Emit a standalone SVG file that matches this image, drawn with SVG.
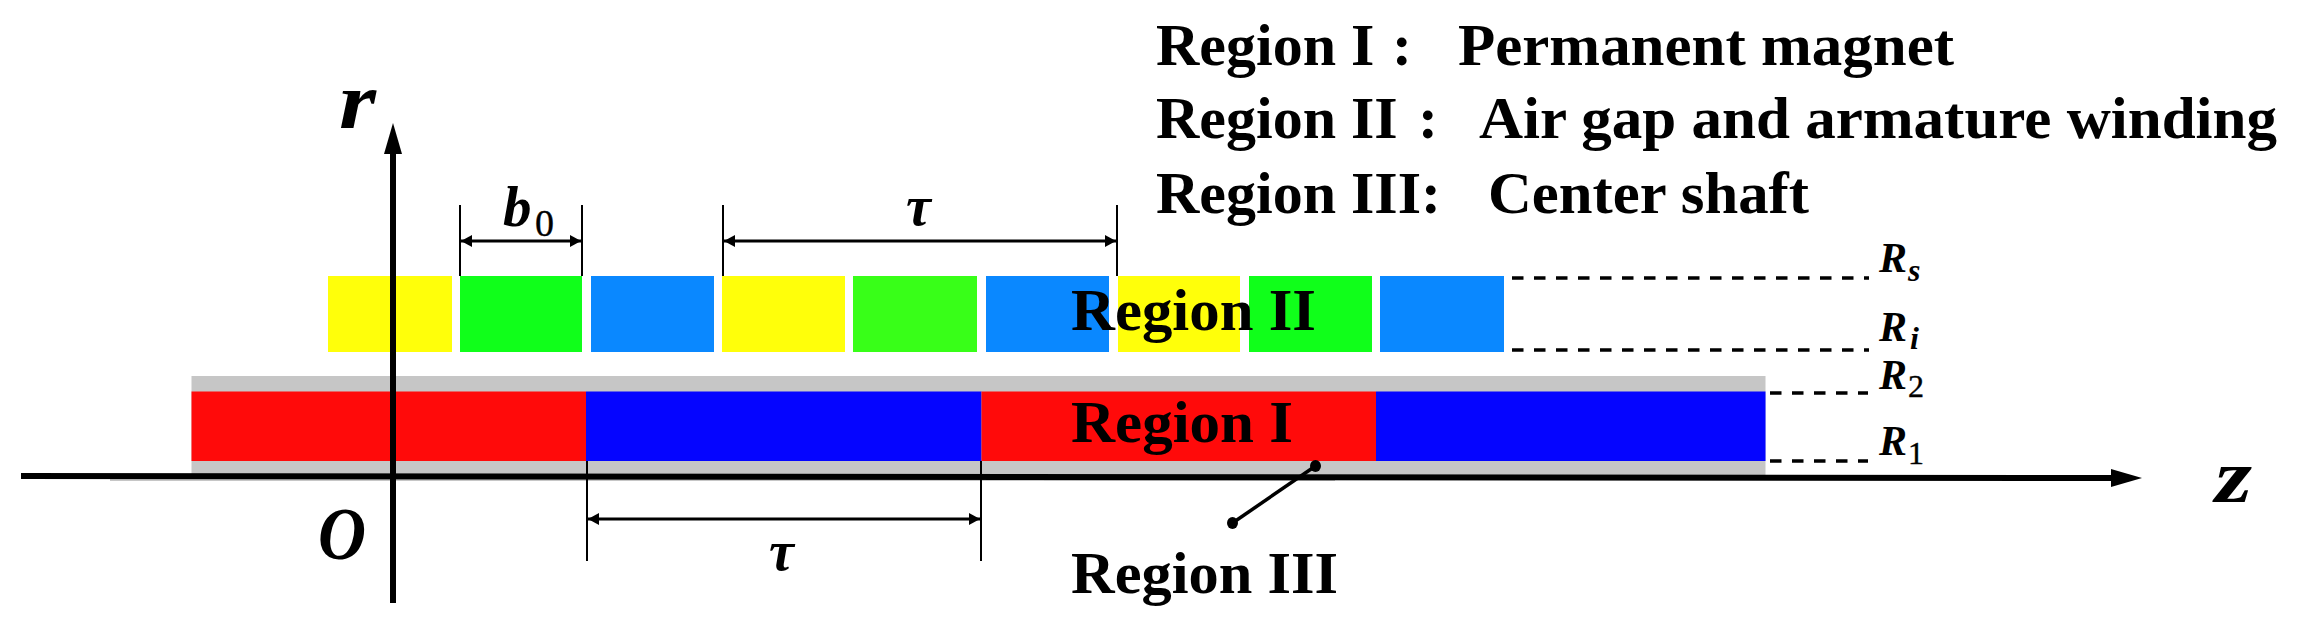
<svg xmlns="http://www.w3.org/2000/svg" width="2298" height="630" viewBox="0 0 2298 630">
<style>
.t{font-family:"Liberation Serif","Times New Roman",serif;font-weight:bold;font-size:60px;fill:#000}
.m{font-family:"Liberation Serif","Times New Roman",serif;font-weight:bold;font-style:italic;fill:#000}
.s{font-family:"Liberation Serif","Times New Roman",serif;fill:#000;stroke:#000;stroke-width:.4}
.axis{stroke:#000;stroke-width:6;fill:none}
.dim{stroke:#000;stroke-width:3;fill:none}
.ext{stroke:#000;stroke-width:2;fill:none}
.dash{stroke:#000;stroke-width:3.5;fill:none;stroke-dasharray:11.5 10.5}
.y{fill:#FFFF0A}.g{fill:#10FF1A}.g2{fill:#38FF18}.b{fill:#0A88FF}
.red{fill:#FF0A0A}.blue{fill:#0505FF}.gray{fill:#C6C6C6}
</style>
<defs>
<marker id="ah" markerUnits="userSpaceOnUse" markerWidth="32" markerHeight="20" refX="0" refY="10" orient="auto"><path d="M0 1L31 10L0 19Z" fill="#000"/></marker>
<marker id="dh" markerUnits="userSpaceOnUse" markerWidth="12" markerHeight="14" refX="11" refY="7" orient="auto-start-reverse"><path d="M0 1L11 7L0 13Z" fill="#000"/></marker>
<marker id="dot" markerUnits="userSpaceOnUse" markerWidth="14" markerHeight="14" refX="7" refY="7"><ellipse cx="7" cy="7" rx="5.5" ry="6" fill="#000"/></marker>
</defs>
<g id="shaft"><rect class="gray" x="191.5" y="376" width="1574" height="100"/><rect class="gray" x="110" y="479" width="1225" height="2"/></g>
<g id="magnets">
<rect class="red" x="191.5" y="391.5" width="394.5" height="69.5"/>
<rect class="blue" x="586" y="391.5" width="395.5" height="69.5"/>
<rect class="red" x="981.5" y="391.5" width="394.5" height="69.5"/>
<rect class="blue" x="1376" y="391.5" width="389.5" height="69.5"/>
</g>
<g id="windings">
<rect class="y" x="328" y="276" width="124" height="76"/>
<rect class="g" x="460" y="276" width="122" height="76"/>
<rect class="b" x="591" y="276" width="123" height="76"/>
<rect class="y" x="722" y="276" width="123" height="76"/>
<rect class="g2" x="853" y="276" width="124" height="76"/>
<rect class="b" x="986" y="276" width="123" height="76"/>
<rect class="y" x="1118" y="276" width="122" height="76"/>
<rect class="g" x="1249" y="276" width="123" height="76"/>
<rect class="b" x="1380" y="276" width="124" height="76"/>
</g>
<g id="connectors">
<line class="axis" x1="21" y1="476" x2="2111" y2="478" marker-end="url(#ah)"/>
<line class="axis" x1="393" y1="603" x2="393" y2="154" marker-end="url(#ah)"/>
<path class="ext" d="M460 205V276M582 205V276M723 205V276M1117 205V276M587 461V561M981 461V561"/>
<line class="dim" x1="461" y1="241" x2="581" y2="241" marker-start="url(#dh)" marker-end="url(#dh)"/>
<line class="dim" x1="724" y1="241" x2="1116" y2="241" marker-start="url(#dh)" marker-end="url(#dh)"/>
<line class="dim" x1="588" y1="519" x2="980" y2="519" marker-start="url(#dh)" marker-end="url(#dh)"/>
<line class="dash" x1="1512" y1="278" x2="1869" y2="278"/>
<line class="dash" x1="1512" y1="350" x2="1869" y2="350"/>
<line class="dash" x1="1770" y1="393" x2="1868" y2="393"/>
<line class="dash" x1="1770" y1="461" x2="1868" y2="461"/>
<line x1="1232.5" y1="523" x2="1315.5" y2="466" stroke="#000" stroke-width="3.5" marker-start="url(#dot)" marker-end="url(#dot)"/>
</g>
<g id="legend">
<text class="t" x="1156" y="65">Region I</text><text class="t" x="1392" y="65">:</text><text class="t" x="1458" y="65" textLength="496" lengthAdjust="spacingAndGlyphs">Permanent magnet</text>
<text class="t" x="1156" y="138">Region II</text><text class="t" x="1418" y="138">:</text><text class="t" x="1479" y="138" textLength="798" lengthAdjust="spacingAndGlyphs">Air gap and armature winding</text>
<text class="t" x="1156" y="213">Region III:</text><text class="t" x="1488" y="213" textLength="321" lengthAdjust="spacingAndGlyphs">Center shaft</text>
</g>
<g id="region-labels">
<text class="t" x="1071" y="330" textLength="245" lengthAdjust="spacingAndGlyphs">Region II</text>
<text class="t" x="1071" y="442" textLength="222" lengthAdjust="spacingAndGlyphs">Region I</text>
<text class="t" x="1071" y="593" textLength="267" lengthAdjust="spacingAndGlyphs">Region III</text>
</g>
<g id="axis-labels">
<text class="m" x="339" y="128" font-size="80" textLength="37" lengthAdjust="spacingAndGlyphs">r</text>
<text class="m" x="2215" y="502" font-size="76" textLength="37" lengthAdjust="spacingAndGlyphs">z</text>
<text class="m" x="318" y="559" font-size="74" textLength="48" lengthAdjust="spacingAndGlyphs">O</text>
<text class="m" x="503" y="226" font-size="57">b</text>
<text class="s" x="535" y="236" font-size="38">0</text>
<text class="m" x="906" y="225" font-size="56">τ</text>
<text class="m" x="769" y="570" font-size="56">τ</text>
<text class="m" x="1879" y="272" font-size="42">R</text><text class="m" x="1908" y="281" font-size="32">s</text>
<text class="m" x="1879" y="341" font-size="42">R</text><text class="m" x="1910" y="349" font-size="32">i</text>
<text class="m" x="1879" y="389" font-size="42">R</text><text class="s" x="1908" y="397" font-size="32">2</text>
<text class="m" x="1879" y="455" font-size="42">R</text><text class="s" x="1908" y="464" font-size="32">1</text>
</g>
</svg>
